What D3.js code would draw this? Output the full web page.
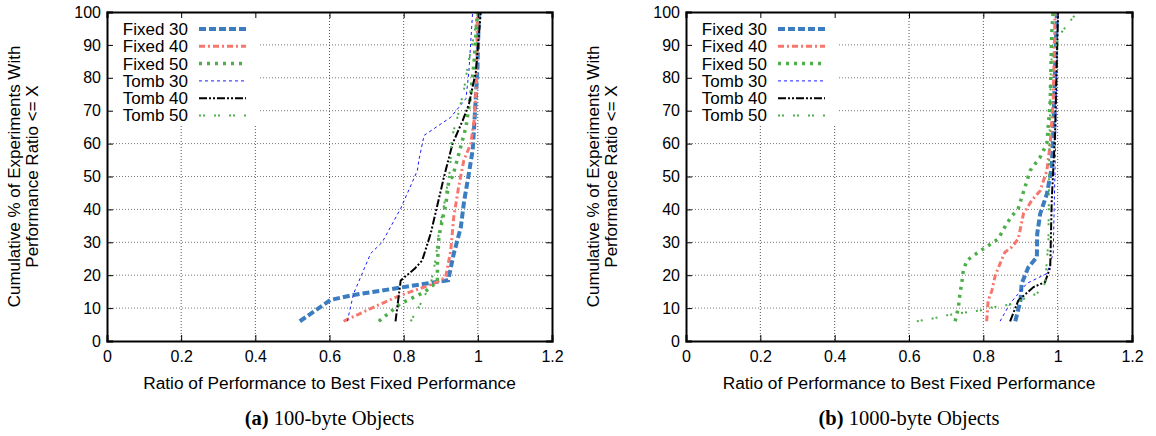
<!DOCTYPE html>
<html>
<head>
<meta charset="utf-8">
<script src="https://cdn.jsdelivr.net/npm/d3@7"></script>
<style>
  html, body { margin: 0; padding: 0; background: #fff; }
  svg { display: block; }
  text { font-family: "Liberation Sans", Arial, Helvetica, sans-serif; fill: #000; }
  .cap { font-family: "Liberation Serif", "Times New Roman", serif; }
</style>
</head>
<body>
<svg id="chart" width="1156" height="436"></svg>
<script>
// ---------- data ----------
const xTicks = [0, 0.2, 0.4, 0.6, 0.8, 1, 1.2];
const yTicks = [0, 10, 20, 30, 40, 50, 60, 70, 80, 90, 100];
const seriesNames = ["Fixed 30", "Fixed 40", "Fixed 50", "Tomb 30", "Tomb 40", "Tomb 50"];
const xTitle = "Ratio of Performance to Best Fixed Performance";
const yTitle = ["Cumulative % of Experiments With", "Performance Ratio <= X"];
const captionLetters = ["(a)", "(b)"];
const captionTexts = [" 100-byte Objects", " 1000-byte Objects"];

// panel (a): [ratio, cumulative %]
const aFixed30 = [[0.52,6],[0.603,12.5],[0.665,14],[0.79,16.2],[0.92,18.5],[0.935,26.5],[0.954,34.5],[0.963,42.5],[0.976,51],[0.986,58],[0.99,65],[0.994,73],[0.999,83],[1.003,100]];
const aFixed40 = [[0.638,6],[0.729,10.8],[0.79,13.8],[0.88,17.4],[0.913,19.3],[0.927,27.5],[0.935,37.6],[0.948,46.7],[0.962,54.8],[0.981,60],[0.99,67],[0.996,78],[0.999,100]];
const aFixed50 = [[0.733,6],[0.792,11.4],[0.855,14.8],[0.891,18],[0.891,23.5],[0.895,31.6],[0.904,36.6],[0.914,41.8],[0.922,48.8],[0.932,50],[0.949,57],[0.968,65],[0.981,75],[0.99,85],[0.999,100]];
const aTomb30  = [[0.648,6],[0.665,14.4],[0.711,26.6],[0.742,30],[0.792,40.3],[0.837,51.8],[0.841,55],[0.855,62.5],[0.927,68],[0.968,73.7],[0.976,82],[0.986,100]];
const aTomb40  = [[0.778,6],[0.792,18.4],[0.83,22],[0.85,24.5],[0.873,32.7],[0.909,50],[0.932,60],[0.959,67],[0.976,72],[0.995,82],[1.008,100]];
const aTomb50  = [[0.819,6],[0.846,11.4],[0.873,17.4],[0.885,24],[0.895,33],[0.91,42],[0.925,52],[0.93,62],[0.945,68],[0.962,76],[0.975,85],[0.99,93],[1.0,100]];

// panel (b)
const bFixed30 = [[0.886,6],[0.9,12.3],[0.903,17.4],[0.921,22.4],[0.944,25.5],[0.945,32.6],[0.953,38.7],[0.971,44.7],[0.984,52.8],[0.988,63],[0.993,83],[0.998,100]];
const bFixed40 = [[0.809,6],[0.813,12.3],[0.823,15.3],[0.832,19.9],[0.845,23.5],[0.858,27],[0.876,28.5],[0.894,31],[0.908,38.7],[0.93,42.7],[0.953,45.7],[0.971,51.8],[0.98,60],[0.988,73],[0.993,100]];
const bFixed50 = [[0.724,6],[0.733,10.3],[0.737,14.4],[0.742,17.5],[0.746,21.4],[0.756,24.5],[0.774,26],[0.8,28],[0.84,31],[0.863,35.7],[0.877,38],[0.894,40.3],[0.926,51.8],[0.953,55.9],[0.971,60],[0.98,73],[0.984,93.5],[0.988,100]];
const bTomb30  = [[0.845,6],[0.872,11.4],[0.917,17.5],[0.971,20.5],[0.988,26.6],[0.993,52.8],[1.001,100]];
const bTomb40  = [[0.872,6],[0.894,12.3],[0.935,16.4],[0.966,17.9],[0.98,22.4],[0.984,42.7],[0.993,63],[1.001,100]];
const bTomb50  = [[0.621,6],[0.666,6.9],[0.702,7.8],[0.74,8.5],[0.791,9.3],[0.827,10.3],[0.872,11.1],[0.944,14.4],[0.966,17.5],[0.975,30],[0.978,60],[0.982,85],[1.005,93],[1.025,96],[1.053,100]];

// ---------- styles ----------
const styles = [
  { color: "#3b7dc0", width: 4,   dash: "7,3" },
  { color: "#f7776f", width: 3,   dash: "6,3,2,3" },
  { color: "#4daf4a", width: 3.5, dash: "3,5" },
  { color: "#1a1aff", width: 1,   dash: "3,3" },
  { color: "#000000", width: 2,   dash: "8,2,2,2,2,2" },
  { color: "#4daf4a", width: 2,   dash: "2,2,2,9" }
];

const panels = [
  { left: 107, right: 552, series: [aFixed30, aFixed40, aFixed50, aTomb30, aTomb40, aTomb50] },
  { left: 686, right: 1132, series: [bFixed30, bFixed40, bFixed50, bTomb30, bTomb40, bTomb50] }
];
const plotTop = 12, plotBottom = 341;

const svg = d3.select("#chart");

panels.forEach((p, pi) => {
  const x = d3.scaleLinear().domain([0, 1.2]).range([p.left, p.right]);
  const y = d3.scaleLinear().domain([0, 100]).range([plotBottom, plotTop]);
  const g = svg.append("g");

  // grid
  g.selectAll(".vg").data(xTicks.filter(t => t > 0 && t < 1.2)).enter().append("line")
    .attr("x1", d => x(d)).attr("x2", d => x(d)).attr("y1", plotTop).attr("y2", plotBottom)
    .attr("stroke", "#555").attr("stroke-width", 1).attr("stroke-dasharray", "1,2");
  g.selectAll(".hg").data(yTicks.filter(t => t > 0 && t < 100)).enter().append("line")
    .attr("x1", p.left).attr("x2", p.right).attr("y1", d => y(d)).attr("y2", d => y(d))
    .attr("stroke", "#777").attr("stroke-width", 1).attr("stroke-dasharray", "1,2");

  // legend background
  g.append("rect").attr("x", p.left + 1).attr("y", plotTop + 1).attr("width", 151).attr("height", 112).attr("fill", "#fff");

  // clip
  const cid = "clip" + pi;
  svg.append("clipPath").attr("id", cid).append("rect")
    .attr("x", p.left).attr("y", plotTop).attr("width", p.right - p.left).attr("height", plotBottom - plotTop);

  const line = d3.line().x(d => x(d[0])).y(d => y(d[1]));
  const lg = g.append("g").attr("clip-path", `url(#${cid})`);
  p.series.forEach((s, i) => {
    lg.append("path").datum(s).attr("d", line).attr("fill", "none")
      .attr("stroke", styles[i].color).attr("stroke-width", styles[i].width)
      .attr("stroke-dasharray", styles[i].dash);
  });

  // axes (ticks inward, mirrored)
  const axB = d3.axisBottom(x).tickValues(xTicks).tickSize(-6).tickPadding(10).tickFormat(d3.format("~g"));
  const axT = d3.axisTop(x).tickValues(xTicks).tickSize(-6).tickFormat("");
  const axL = d3.axisLeft(y).tickValues(yTicks).tickSize(-6).tickPadding(6);
  const axR = d3.axisRight(y).tickValues(yTicks).tickSize(-6).tickFormat("");
  [[axB, `translate(0,${plotBottom})`], [axT, `translate(0,${plotTop})`], [axL, `translate(${p.left},0)`], [axR, `translate(${p.right},0)`]]
    .forEach(([ax, tr]) => {
      const a = g.append("g").attr("transform", tr).call(ax);
      a.select(".domain").attr("stroke", "#000").attr("stroke-width", 2);
      a.selectAll(".tick line").attr("stroke", "#000").attr("stroke-width", 1);
      a.selectAll("text").style("font-size", "16px").style("font-family", "Liberation Sans, Arial, sans-serif").attr("fill", "#000");
    });

  // legend
  seriesNames.forEach((n, i) => {
    const ly = 29 + i * 17.3;
    g.append("text").attr("x", p.left + 81).attr("y", ly).attr("dy", "0.35em")
      .attr("text-anchor", "end").style("font-size", "17px").text(n);
    g.append("line").attr("x1", p.left + 92).attr("x2", p.left + 139).attr("y1", ly).attr("y2", ly)
      .attr("stroke", styles[i].color).attr("stroke-width", styles[i].width)
      .attr("stroke-dasharray", styles[i].dash);
  });

  // x title
  const cx = (p.left + p.right) / 2;
  g.append("text").attr("x", cx).attr("y", 389).attr("text-anchor", "middle")
    .style("font-size", "17.3px").text(xTitle);

  // y title
  const yc = (plotTop + plotBottom) / 2;
  yTitle.forEach((t, k) => {
    g.append("text").attr("transform", `translate(${p.left - 87 + k * 18},${yc}) rotate(-90)`)
      .attr("text-anchor", "middle").style("font-size", "17px").text(t);
  });

  // caption
  const cap = g.append("text").attr("class", "cap").attr("x", cx).attr("y", 425)
    .attr("text-anchor", "middle").style("font-size", "20.5px");
  cap.append("tspan").style("font-weight", "bold").text(captionLetters[pi]);
  cap.append("tspan").text(captionTexts[pi]);
});
</script>
</body>
</html>
